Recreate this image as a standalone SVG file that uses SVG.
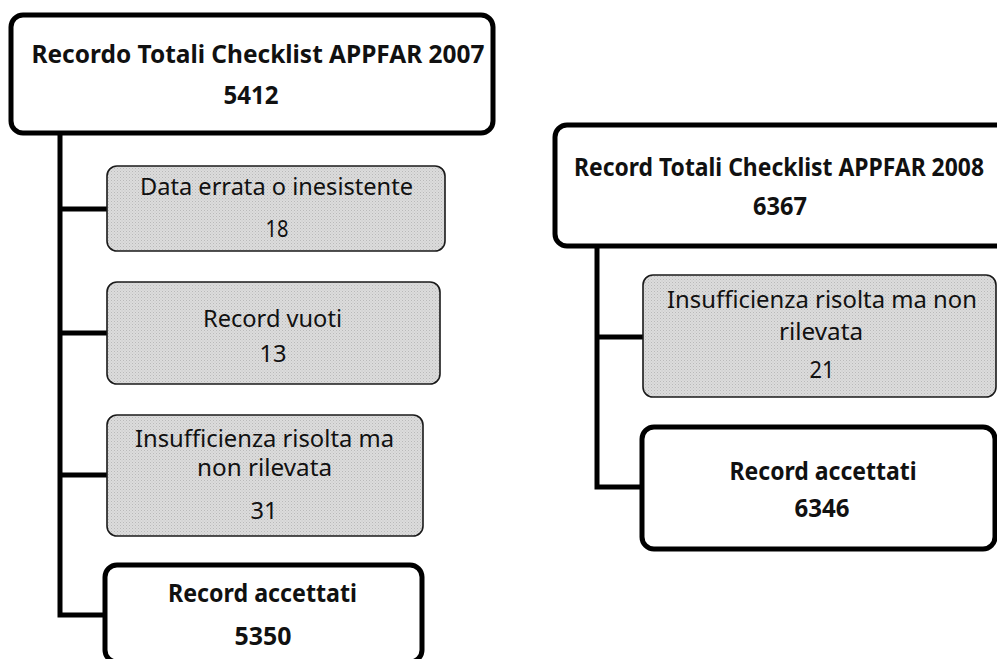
<svg xmlns="http://www.w3.org/2000/svg" width="997" height="659" viewBox="0 0 997 659">
  <style>
    .main { fill: #ffffff; stroke: #000000; stroke-width: 5; }
    .sub { fill: url(#dots); stroke: #1a1a1a; stroke-width: 1.6; }
    .link { fill: none; stroke: #000000; stroke-width: 5; stroke-linecap: square; }
    text { font-family: "Noto Sans", "Open Sans", "Liberation Sans", sans-serif; fill: #111111; text-anchor: middle; }
    .b { font-weight: bold; font-size: 25px; }
    .r { font-size: 23px; }
  </style>
  <defs>
    <!-- fine dotted grey fill used by the rejected-record boxes -->
    <pattern id="dots" width="3" height="3" patternUnits="userSpaceOnUse">
      <rect width="3" height="3" fill="#dcdcdc"/>
      <rect x="0" y="0" width="1" height="1" fill="#b9b9b9"/>
      <rect x="1.5" y="1.5" width="1" height="1" fill="#c4c4c4"/>
    </pattern>
  </defs>

  <!-- tree connectors -->
  <g id="connectors">
    <path class="link" d="M60,133 V615 M60,209 H107 M60,333 H107 M60,475 H107 M60,615 H105"/>
    <path class="link" d="M597,248 V487 M597,337 H643 M597,487 H642"/>
  </g>

  <!-- 2007 checklist -->
  <g id="total2007">
    <rect class="main" x="11" y="15" width="482" height="118" rx="12"/>
    <text class="b" x="258" y="63" textLength="453" lengthAdjust="spacingAndGlyphs">Recordo Totali Checklist APPFAR 2007</text>
    <text class="b" x="251" y="104" textLength="55" lengthAdjust="spacingAndGlyphs">5412</text>
  </g>
  <g id="dataErrata2007">
    <rect class="sub" x="107" y="166" width="338" height="85" rx="10"/>
    <text class="r" x="276.5" y="195" textLength="273" lengthAdjust="spacingAndGlyphs">Data errata o inesistente</text>
    <text class="r" x="277" y="237" textLength="23" lengthAdjust="spacingAndGlyphs">18</text>
  </g>
  <g id="recordVuoti2007">
    <rect class="sub" x="107" y="282" width="333" height="102" rx="10"/>
    <text class="r" x="272.5" y="327" textLength="139" lengthAdjust="spacingAndGlyphs">Record vuoti</text>
    <text class="r" x="273" y="362" textLength="27" lengthAdjust="spacingAndGlyphs">13</text>
  </g>
  <g id="insufficienza2007">
    <rect class="sub" x="107" y="415" width="316" height="121" rx="10"/>
    <text class="r" x="264.5" y="447" textLength="259" lengthAdjust="spacingAndGlyphs">Insufficienza risolta ma</text>
    <text class="r" x="264.5" y="476" textLength="135" lengthAdjust="spacingAndGlyphs">non rilevata</text>
    <text class="r" x="264" y="519" textLength="27" lengthAdjust="spacingAndGlyphs">31</text>
  </g>
  <g id="accettati2007">
    <rect class="main" x="105" y="565" width="317" height="97" rx="12"/>
    <text class="b" x="262.5" y="602" textLength="189" lengthAdjust="spacingAndGlyphs">Record accettati</text>
    <text class="b" x="263" y="645" textLength="57" lengthAdjust="spacingAndGlyphs">5350</text>
  </g>

  <!-- 2008 checklist -->
  <g id="total2008">
    <rect class="main" x="555" y="125" width="470" height="121" rx="12"/>
    <text class="b" x="779" y="176" textLength="410" lengthAdjust="spacingAndGlyphs">Record Totali Checklist APPFAR 2008</text>
    <text class="b" x="780" y="215" textLength="54" lengthAdjust="spacingAndGlyphs">6367</text>
  </g>
  <g id="insufficienza2008">
    <rect class="sub" x="643" y="275" width="353" height="122" rx="10"/>
    <text class="r" x="822" y="308" textLength="310" lengthAdjust="spacingAndGlyphs">Insufficienza risolta ma non</text>
    <text class="r" x="821" y="340" textLength="84" lengthAdjust="spacingAndGlyphs">rilevata</text>
    <text class="r" x="822" y="378" textLength="25" lengthAdjust="spacingAndGlyphs">21</text>
  </g>
  <g id="accettati2008">
    <rect class="main" x="642" y="427" width="353" height="122" rx="12"/>
    <text class="b" x="823" y="480" textLength="187" lengthAdjust="spacingAndGlyphs">Record accettati</text>
    <text class="b" x="822" y="517" textLength="55" lengthAdjust="spacingAndGlyphs">6346</text>
  </g>
</svg>
